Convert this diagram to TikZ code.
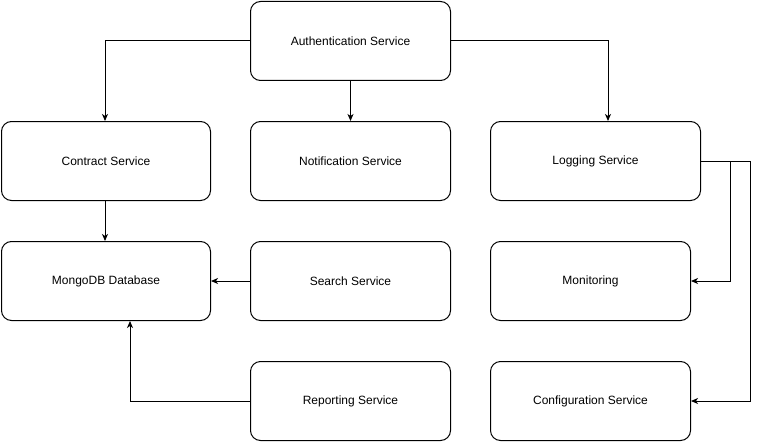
\documentclass[tikz,border=0pt]{standalone}
\usepackage{fontspec}
\setmainfont{Liberation Sans}
\usetikzlibrary{arrows.meta}
\begin{document}
\begin{tikzpicture}[x=1pt,y=-1pt,
  box/.style={draw, line width=1pt, rounded corners=10pt, anchor=north west, inner sep=0pt, font=\fontsize{12}{14}\selectfont},
  conn/.style={draw, line width=1pt, -{Stealth[length=7pt,width=6pt,inset=2pt]}}]
\useasboundingbox (0,0) rectangle (759,441);
\node[box, minimum width=200pt, minimum height=79pt] (auth) at (250,1) {Authentication Service};
\node[box, minimum width=209pt, minimum height=79pt] (contract) at (1,121) {Contract Service};
\node[box, minimum width=200pt, minimum height=79pt] (notif) at (250,121) {Notification Service};
\node[box, minimum width=210pt, minimum height=79pt] (logging) at (490,121) {Logging Service};
\node[box, minimum width=209pt, minimum height=79pt] (mongo) at (1,241) {MongoDB Database};
\node[box, minimum width=200pt, minimum height=79pt] (search) at (250,241) {Search Service};
\node[box, minimum width=200pt, minimum height=79pt] (monitor) at (490,241) {Monitoring};
\node[box, minimum width=200pt, minimum height=79pt] (report) at (250,361) {Reporting Service};
\node[box, minimum width=200pt, minimum height=79pt] (config) at (490,361) {Configuration Service};
\coordinate (c1) at (105,0);
\coordinate (c2) at (608,0);
\coordinate (c3) at (730,0);
\coordinate (c5) at (750,0);
\coordinate (c7) at (130,0);
\draw[conn] (auth.west) -| (c1 |- contract.north);
\draw[conn] (auth.south) -- (notif.north);
\draw[conn] (auth.east) -| (c2 |- logging.north);
\draw[conn] (logging.east) -| (c3 |- monitor.east) -- (monitor.east);
\draw[conn] (logging.east) -| (c5 |- config.east) -- (config.east);
\draw[conn] (c1 |- contract.south) -- (c1 |- mongo.north);
\draw[conn] (search.west) -- (mongo.east);
\draw[conn] (report.west) -| (c7 |- mongo.south);
\end{tikzpicture}
\end{document}
